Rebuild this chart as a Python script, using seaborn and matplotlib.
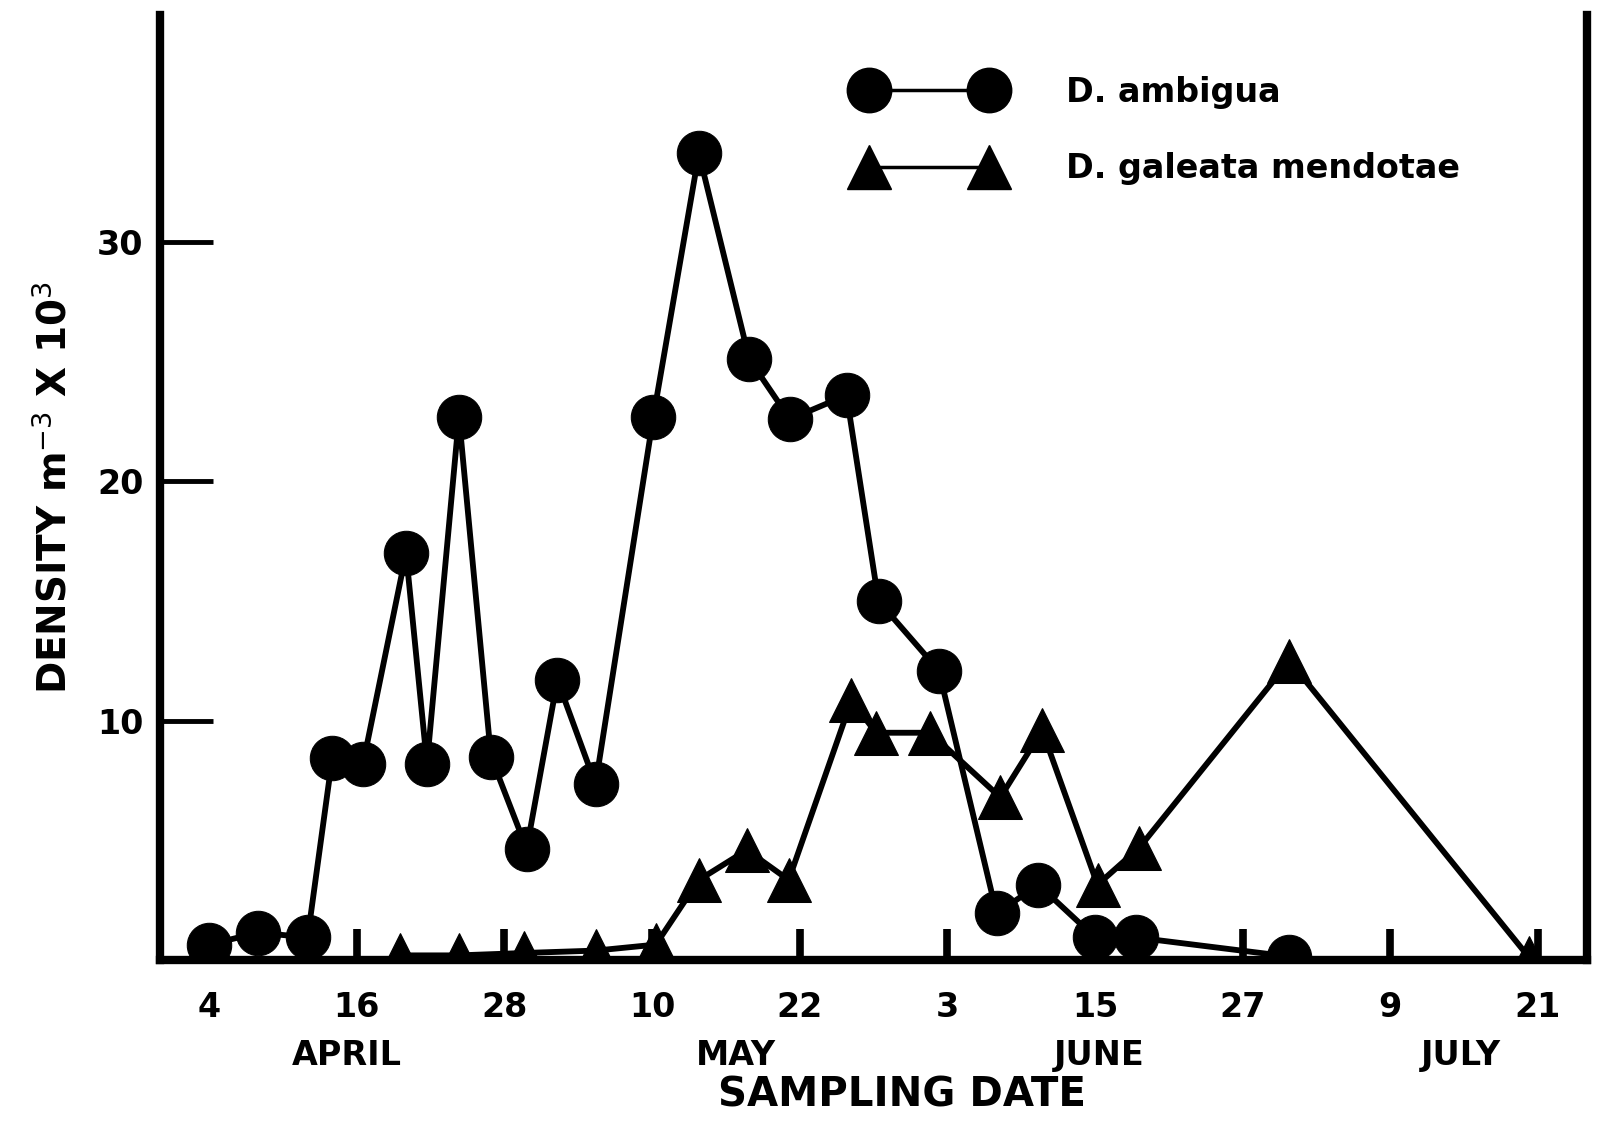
import pandas as pd
import matplotlib
matplotlib.use("Agg")
import matplotlib.pyplot as plt
import seaborn as sns

# days counted from 4 April
ambigua_day = [0, 4, 8, 10, 12.5, 16, 17.7, 20.3, 22.9, 25.8, 28.3, 31.4, 36.1, 39.8,
               43.9, 47.2, 51.8, 54.4, 59.3, 64, 67.4, 72, 75.3, 87.8]
ambigua_density = [0.65, 1.15, 0.95, 8.45, 8.2, 17.0, 8.2, 22.7, 8.5, 4.65, 11.7, 7.35, 22.7, 33.7,
                   25.1, 22.6, 23.6, 15.0, 12.1, 1.95, 3.15, 0.95, 0.95, 0.15]

galeata_day = [15.5, 20.3, 25.6, 31.4, 36.3, 39.8, 43.7, 47.1, 52.2, 54.2, 58.6, 64.3,
               67.7, 72.2, 75.6, 87.8, 107.3]
galeata_density = [0.2, 0.2, 0.3, 0.4, 0.65, 3.35, 4.6, 3.35, 10.85, 9.5, 9.5, 6.8,
                   9.6, 3.15, 4.7, 12.5, 0.1]

tick_days = [0, 12, 24, 36, 48, 60, 72, 84, 96, 108]
tick_labels = ["4", "16", "28", "10", "22", "3", "15", "27", "9", "21"]
months = ["APRIL", "MAY", "JUNE", "JULY"]
month_days = [11.2, 42.8, 72.3, 101.7]
y_ticks = [10, 20, 30]

df = pd.concat([
    pd.DataFrame({"day": ambigua_day, "density": ambigua_density, "species": "D. ambigua"}),
    pd.DataFrame({"day": galeata_day, "density": galeata_density, "species": "D. galeata mendotae"}),
])

sns.set_style("ticks")
plt.rcParams["font.family"] = ["DejaVu Sans"]
plt.rcParams["text.color"] = "black"
plt.rcParams["axes.labelcolor"] = "black"
plt.rcParams["xtick.color"] = "black"
plt.rcParams["ytick.color"] = "black"

fig = plt.figure(figsize=(16, 11.23), dpi=100)
ax = fig.add_axes([0.1, 0.145, 0.892, 0.842])

sns.lineplot(data=df, x="day", y="density", hue="species", style="species",
             markers={"D. ambigua": "o", "D. galeata mendotae": "^"}, dashes=False,
             palette={"D. ambigua": "black", "D. galeata mendotae": "black"},
             sort=False, estimator=None, linewidth=4.2, markersize=32,
             markeredgecolor="black", ax=ax, legend=False, zorder=3)

ax.set_xlim(-4, 112)
ax.set_ylim(0, 39.5)

for s in ["left", "bottom", "right"]:
    ax.spines[s].set_linewidth(6)
    ax.spines[s].set_color("black")
ax.spines["top"].set_visible(False)

ax.set_yticks(y_ticks)
ax.set_yticklabels([str(v) for v in y_ticks], fontsize=24, fontweight="bold")
ax.tick_params(axis="y", direction="in", length=38, width=3.5, pad=12)

ax.set_xticks(tick_days)
ax.set_xticklabels(tick_labels, fontsize=24, fontweight="bold")
ax.tick_params(axis="x", direction="in", length=22, width=5.5, pad=22)

for m, d in zip(months, month_days):
    ax.text(d, -3.3, m, ha="center", va="top", fontsize=24, fontweight="bold")

ax.set_xlabel("SAMPLING DATE", fontsize=29, fontweight="bold")
ax.xaxis.label.set_va("baseline")
ax.xaxis.set_label_coords(0.52, -0.155)
ax.set_ylabel("DENSITY m$^{-3}$ X 10$^{3}$", fontsize=28, fontweight="bold", labelpad=16)

h1 = plt.Line2D([], [], color="black", lw=2.5, marker="o", markersize=32)
h2 = plt.Line2D([], [], color="black", lw=2.5, marker="^", markersize=32)
ax.legend([h1, h2], ["D. ambigua", "D. galeata mendotae"], loc="upper left",
          bbox_to_anchor=(0.49, 0.935), frameon=False, numpoints=2, handlelength=4.2,
          prop={"weight": "bold", "size": 24}, labelspacing=1.3,
          borderaxespad=0, borderpad=0, handletextpad=2.0)

fig.savefig("out.png", dpi=100)
